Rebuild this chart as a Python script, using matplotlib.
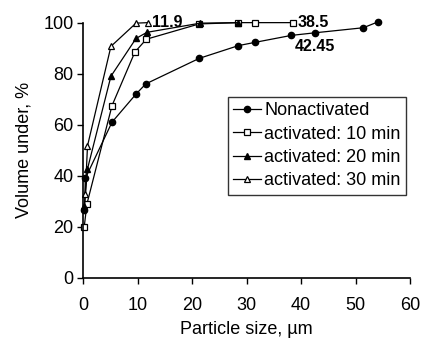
import matplotlib
matplotlib.use("Agg")
import matplotlib.pyplot as plt

plt.rcParams['font.family'] = ['Liberation Sans', 'DejaVu Sans']

# nonactivated
x_non = [0.25, 0.4, 5.3, 9.7, 11.5, 21.3, 28.5, 31.6, 38.2, 42.45, 51.4, 54.1]
y_non = [26.5, 39, 61, 72, 76, 86, 91, 92.3, 95, 96, 98, 100.3]
# activated 10 min
x_10 = [0.2, 0.7, 5.3, 9.5, 11.6, 21.3, 28.5, 31.6, 38.5]
y_10 = [20, 29, 67.5, 88.5, 93.5, 99.5, 100, 100, 100]
# activated 20 min
x_20 = [0.25, 0.8, 5.1, 9.7, 11.7, 21.5, 28.5]
y_20 = [28, 42.7, 79, 93.8, 96.2, 99.8, 100]
# activated 30 min
x_30 = [0.4, 0.8, 5.1, 9.7, 11.9]
y_30 = [33, 51.7, 90.7, 99.8, 100]

fig = plt.figure(figsize=(4.22, 3.43), dpi=100)
ax = fig.add_axes([0.197, 0.19, 0.775, 0.744])

kw = dict(color='black', lw=0.9, clip_on=False)
ax.plot(x_non, y_non, marker='o', ms=4.5, mfc='black', label='Nonactivated', **kw)
ax.plot(x_10, y_10, marker='s', ms=4.5, mfc='white', mew=0.9, label='activated: 10 min', **kw)
ax.plot(x_20, y_20, marker='^', ms=5, mfc='black', label='activated: 20 min', **kw)
ax.plot(x_30, y_30, marker='^', ms=5, mfc='white', mew=0.9, label='activated: 30 min', **kw)

ax.annotate('11.9', (x_30[-1], y_30[-1]), xytext=(3, 0), textcoords='offset points',
            fontsize=11.5, fontweight='bold', va='center', ha='left')
ax.annotate('38.5', (x_10[-1], y_10[-1]), xytext=(3, 0), textcoords='offset points',
            fontsize=11.5, fontweight='bold', va='center', ha='left')
ax.annotate('42.45', (x_non[9], y_non[9]), xytext=(0, -10), textcoords='offset points',
            fontsize=11.5, fontweight='bold', va='center', ha='center')

ax.set_xlim(0, 60)
ax.set_ylim(0, 100)
ax.set_xticks(range(0, 61, 10))
ax.set_yticks(range(0, 101, 20))
ax.tick_params(labelsize=13, length=4, width=1)
ax.tick_params(axis='x', pad=10)
ax.tick_params(axis='y', pad=3)
for s in ['top', 'right']:
    ax.spines[s].set_visible(False)
for s in ['left', 'bottom']:
    ax.spines[s].set_linewidth(1.2)

ax.set_xlabel('Particle size, µm', fontsize=13, labelpad=5)
ax.set_ylabel('Volume under, %', fontsize=13, labelpad=8)

leg = ax.legend(loc='upper left', bbox_to_anchor=(0.443, 0.709), fontsize=13,
                frameon=True, fancybox=False, edgecolor='black', borderpad=0.3,
                handlelength=1.5, handletextpad=0.2, labelspacing=0.35, borderaxespad=0)
leg.get_frame().set_linewidth(1)

fig.savefig('out.png', dpi=100)
